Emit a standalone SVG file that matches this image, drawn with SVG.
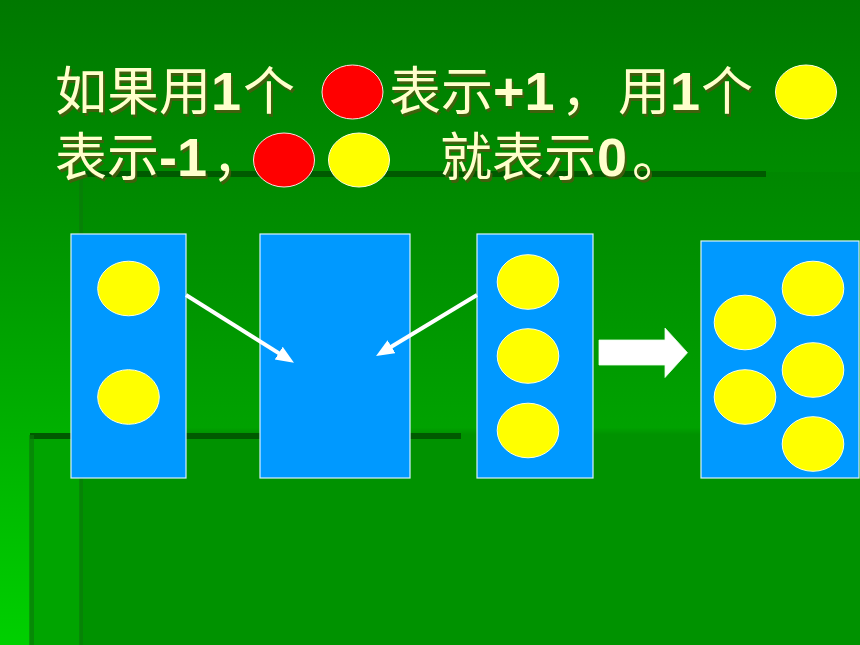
<svg xmlns="http://www.w3.org/2000/svg" xmlns:xlink="http://www.w3.org/1999/xlink" width="860" height="645" viewBox="0 0 860 645">
<style>
.cjk{font-family:"Noto Sans CJK SC","Noto Sans CJK TC",sans-serif;font-size:52px;}
.num{font-family:"Liberation Sans",Arial,sans-serif;font-weight:bold;font-size:54px;}
.box{fill:#0099ff;stroke:#d8f0ff;stroke-width:1.2;}
.y{fill:#ffff00;stroke:#ffffe0;stroke-width:1;}
.r{fill:#ff0000;stroke:#ffe0e0;stroke-width:1;}
.txt{fill:#ffffcc;}
.shd{fill:#4d5a10;opacity:0.85;}
.conn{stroke:#ffffff;stroke-width:4;fill:none;}
</style>
<defs>
<linearGradient id="bg" x1="0" y1="0" x2="0" y2="1">
<stop offset="0" stop-color="#007800"/>
<stop offset="0.3" stop-color="#008e00"/>
<stop offset="0.7" stop-color="#00b400"/>
<stop offset="1" stop-color="#00d000"/>
</linearGradient>
<linearGradient id="pa" gradientUnits="userSpaceOnUse" x1="0" y1="172" x2="0" y2="645">
<stop offset="0" stop-color="#008700"/>
<stop offset="0.54" stop-color="#00a200"/>
<stop offset="0.555" stop-color="#009200"/>
<stop offset="1" stop-color="#009200"/>
</linearGradient>
<marker id="ah" markerUnits="userSpaceOnUse" markerWidth="20" markerHeight="16" refX="8" refY="7.5" orient="auto">
<path d="M0,0 L18,7.5 L0,15 z" fill="#ffffff"/>
</marker>
<g id="words">
<text class="cjk" x="55" y="110">如果用<tspan class="num" x="211">1</tspan><tspan x="243">个</tspan><tspan x="389">表示</tspan><tspan class="num" x="493">+1</tspan><tspan x="561">，</tspan><tspan x="618">用</tspan><tspan class="num" x="670">1</tspan><tspan x="701">个</tspan></text>
<text class="cjk" x="55" y="176">表示<tspan class="num" x="159">-1</tspan><tspan x="212">，</tspan><tspan x="440">就表示</tspan><tspan class="num" x="597">0</tspan><tspan x="632">。</tspan></text>
</g>
</defs>

<g id="background">
<rect x="0" y="0" width="860" height="645" fill="url(#bg)"/>
<rect x="30" y="434" width="830" height="211" fill="#00a400"/>
<rect x="80" y="172" width="780" height="473" fill="url(#pa)"/>
<rect x="80" y="171" width="686" height="6" fill="#005a00"/>
<rect x="79" y="173" width="4" height="472" fill="#0a7a0a" opacity="0.6"/>
<rect x="30" y="433" width="431" height="6" fill="#005a00"/>
<rect x="29" y="435" width="5" height="210" fill="#0a7a0a" opacity="0.6"/>
</g>

<g id="caption">
<use xlink:href="#words" class="shd" transform="translate(2,3)"/>
<use xlink:href="#words" class="txt"/>
<ellipse class="r" cx="352.5" cy="92" rx="30.5" ry="27"/>
<ellipse class="y" cx="806" cy="92" rx="30.5" ry="27"/>
<ellipse class="r" cx="284" cy="160" rx="30.5" ry="27"/>
<ellipse class="y" cx="359" cy="160" rx="30.5" ry="27"/>
</g>

<g id="box1">
<rect class="box" x="71" y="234" width="115" height="244"/>
<ellipse class="y" cx="128.5" cy="288.5" rx="30.8" ry="27.3"/>
<ellipse class="y" cx="128.5" cy="397" rx="30.8" ry="27.3"/>
</g>

<g id="box2">
<rect class="box" x="260" y="234" width="150" height="244"/>
</g>

<g id="box3">
<rect class="box" x="477" y="234" width="116" height="244"/>
<ellipse class="y" cx="528" cy="282" rx="30.8" ry="27.3"/>
<ellipse class="y" cx="528" cy="356" rx="30.8" ry="27.3"/>
<ellipse class="y" cx="528" cy="430.5" rx="30.8" ry="27.3"/>
</g>

<g id="box4">
<rect class="box" x="701" y="241" width="158" height="237"/>
<ellipse class="y" cx="745" cy="322.5" rx="30.8" ry="27.3"/>
<ellipse class="y" cx="745" cy="397" rx="30.8" ry="27.3"/>
<ellipse class="y" cx="813" cy="288.5" rx="30.8" ry="27.3"/>
<ellipse class="y" cx="813" cy="370" rx="30.8" ry="27.3"/>
<ellipse class="y" cx="813" cy="444" rx="30.8" ry="27.3"/>
</g>

<g id="connectors">
<line class="conn" x1="186" y1="295" x2="285.5" y2="357.4" marker-end="url(#ah)"/>
<line class="conn" x1="477" y1="295" x2="384.6" y2="350.8" marker-end="url(#ah)"/>
<polygon points="599,340 665,340 665,328 687.5,352.7 665,377.5 665,365 599,365" fill="#ffffff" stroke="#e8ffe8" stroke-width="0.8"/>
</g>
</svg>
